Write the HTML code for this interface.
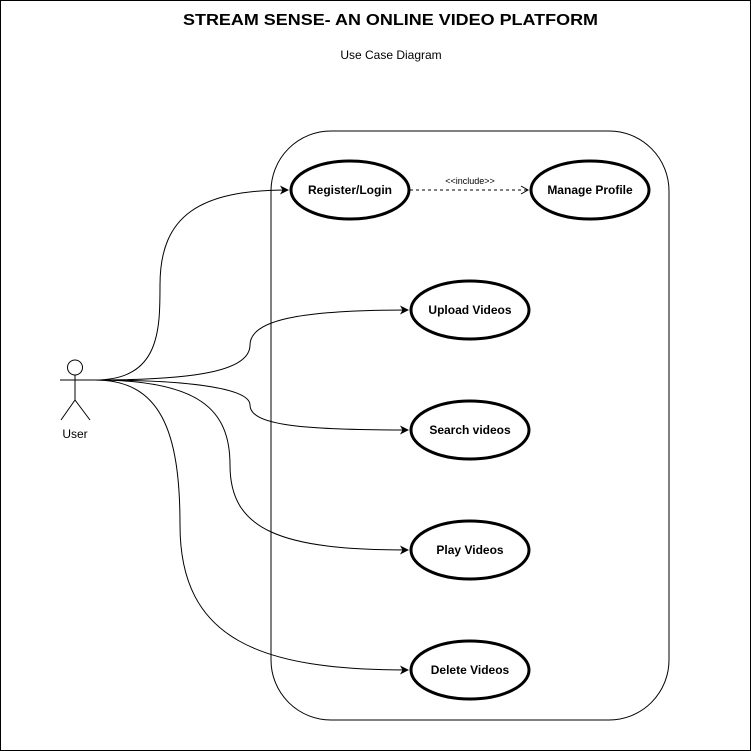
<!DOCTYPE html>
<html><head><style>body{margin:0;background:#fff}svg{display:block}</style></head><body>
<svg width="751" height="751" viewBox="0 0 751 751" xmlns="http://www.w3.org/2000/svg" font-family="Liberation Sans, Arial, sans-serif">
<defs>
<marker id="a" markerWidth="10" markerHeight="10" refX="8" refY="5" orient="auto" markerUnits="userSpaceOnUse"><path d="M0,0.5 L9,5 L0,9.5 L2.5,5 Z" fill="#000"/></marker>
<marker id="o" markerWidth="10" markerHeight="10" refX="8" refY="5" orient="auto" markerUnits="userSpaceOnUse"><path d="M1,1 L8,5 L1,9" fill="none" stroke="#000" stroke-width="1"/></marker>
</defs>
<rect x="0.5" y="0.5" width="750" height="750" fill="#fff" stroke="#000"/>
<text x="183" y="25" font-size="16" font-weight="bold" textLength="415" lengthAdjust="spacingAndGlyphs">STREAM SENSE- AN ONLINE VIDEO PLATFORM</text>
<text x="391" y="59" text-anchor="middle" font-size="12">Use Case Diagram</text>
<rect x="271" y="131" width="398" height="589" rx="60" ry="60" fill="none" stroke="#000"/>
<g fill="none" stroke="#000" stroke-width="1">
<path d="M95,380 C160,380 160,330 160,285 C160,215 200,190 288,190" marker-end="url(#a)"/>
<path d="M95,380 C200,380 250,370 250,345 C250,320 300,310 408,310" marker-end="url(#a)"/>
<path d="M95,380 C200,380 250,390 250,405 C250,425 300,430 408,430" marker-end="url(#a)"/>
<path d="M95,380 C200,380 230,410 230,465 C230,530 280,550 408,550" marker-end="url(#a)"/>
<path d="M95,380 C160,380 180,430 180,525 C180,640 260,670 408,670" marker-end="url(#a)"/>
<path d="M410,190 L528,190" stroke-dasharray="3,3" marker-end="url(#o)"/>
</g>
<text x="470" y="184" text-anchor="middle" font-size="9">&lt;&lt;include&gt;&gt;</text>
<g fill="#fff" stroke="#000" stroke-width="3">
<ellipse cx="350" cy="190" rx="59" ry="29"/>
<ellipse cx="590" cy="190" rx="59" ry="29"/>
<ellipse cx="470" cy="310" rx="59" ry="29"/>
<ellipse cx="470" cy="430" rx="59" ry="29"/>
<ellipse cx="470" cy="550" rx="59" ry="29"/>
<ellipse cx="470" cy="670" rx="59" ry="29"/>
</g>
<g font-size="12" text-anchor="middle" font-weight="bold">
<text x="350" y="194">Register/Login</text>
<text x="590" y="194">Manage Profile</text>
<text x="470" y="314">Upload Videos</text>
<text x="470" y="434">Search videos</text>
<text x="470" y="554">Play Videos</text>
<text x="470" y="674">Delete Videos</text>
</g>
<g fill="none" stroke="#000" stroke-width="1">
<circle cx="75" cy="367.5" r="7.5"/>
<path d="M75,375 L75,400 M60,380 L98,380 M75,400 L61,420 M75,400 L90,420"/>
</g>
<text x="75" y="438" text-anchor="middle" font-size="12">User</text>
</svg>
</body></html>
